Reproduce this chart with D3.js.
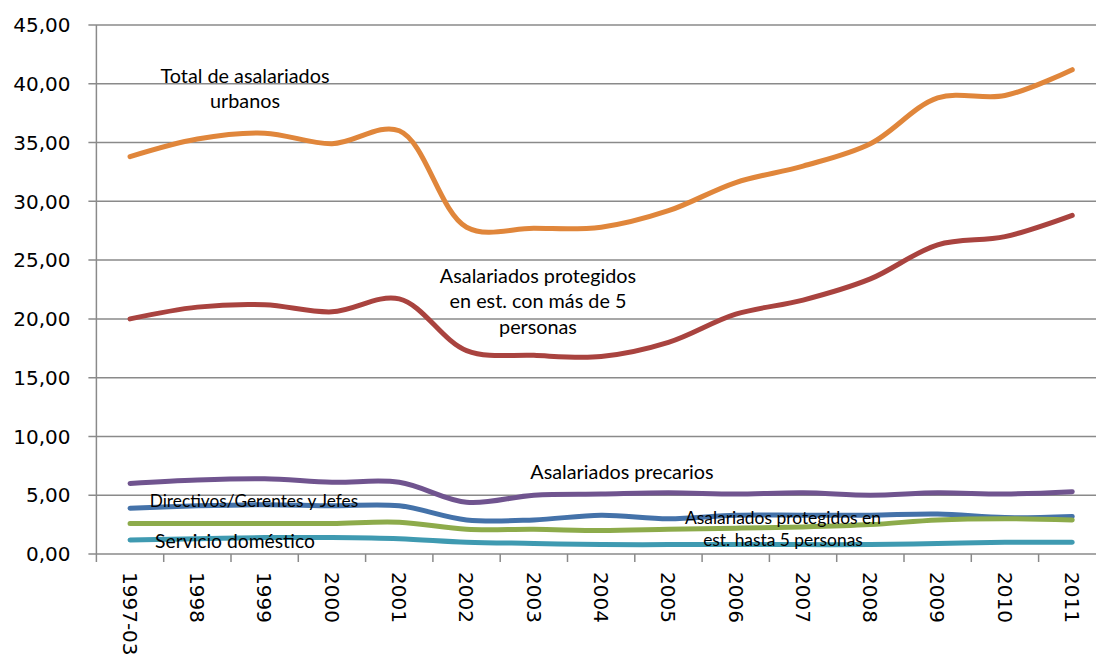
<!DOCTYPE html>
<html><head><meta charset="utf-8">
<script src="https://cdn.jsdelivr.net/npm/d3@7"></script>
<style>body{margin:0;background:#fff}svg{display:block}</style>
</head><body>
<svg id="c" width="1096" height="657"></svg>
<script>
const categories = ["1997-03","1998","1999","2000","2001","2002","2003","2004","2005","2006","2007","2008","2009","2010","2011"];
const yTicks = [0,5,10,15,20,25,30,35,40,45];
const totalUrbanos   = [33.8,35.3,35.8,34.9,36.0,27.8,27.7,27.8,29.2,31.6,33.0,34.9,38.8,39.0,41.2];
const protegidosMas5 = [20.0,21.0,21.2,20.6,21.7,17.3,16.9,16.8,18.0,20.4,21.6,23.4,26.3,27.0,28.8];
const precarios      = [6.0,6.3,6.4,6.1,6.1,4.4,5.0,5.1,5.2,5.1,5.2,5.0,5.2,5.1,5.3];
const directivos     = [3.9,4.1,4.2,4.1,4.1,2.9,2.9,3.3,3.0,3.3,3.3,3.3,3.4,3.1,3.2];
const protegidosHasta5 = [2.6,2.6,2.6,2.6,2.7,2.1,2.1,2.0,2.1,2.2,2.3,2.5,2.9,3.0,2.9];
const servicioDomestico = [1.2,1.3,1.4,1.4,1.3,1.0,0.9,0.8,0.8,0.8,0.8,0.8,0.9,1.0,1.0];

const series = [
  {values: totalUrbanos, color: "#E0863B"},
  {values: protegidosMas5, color: "#A9433F"},
  {values: precarios, color: "#70548F"},
  {values: directivos, color: "#4472A9"},
  {values: protegidosHasta5, color: "#8DAB4B"},
  {values: servicioDomestico, color: "#3F9AB1"}
];

(function(){
const svg = d3.select("#c");
const pLeft = 96.4, pTop = 25, pBottom = 554, band = 67.3;
const x = d3.scaleBand().domain(categories).range([pLeft, pLeft + band*categories.length]);
const y = d3.scaleLinear().domain([0,45]).range([pBottom, pTop]);
const gridColor = "#8a8a8a";

svg.append("g").selectAll("line").data(yTicks).join("line")
  .attr("x1", pLeft - 8).attr("x2", 1096)
  .attr("y1", d => y(d)).attr("y2", d => y(d))
  .attr("stroke", gridColor).attr("stroke-width", 1.5);
svg.append("line").attr("x1", pLeft).attr("x2", pLeft).attr("y1", pTop).attr("y2", pBottom)
  .attr("stroke", gridColor).attr("stroke-width", 1.5);
svg.append("g").selectAll("text").data(yTicks).join("text")
  .attr("x", 70.5).attr("y", d => y(d)).attr("dy", "0.36em")
  .attr("text-anchor", "end")
  .attr("font-family", "DejaVu Sans").attr("font-size", 20).attr("fill", "#000")
  .text(d => d.toFixed(2).replace(".", ","));
svg.append("g").selectAll("line").data(categories).join("line")
  .attr("x1", d => x(d)).attr("x2", d => x(d))
  .attr("y1", pBottom).attr("y2", pBottom + 8)
  .attr("stroke", gridColor).attr("stroke-width", 1.5);
svg.append("g").selectAll("text").data(categories).join("text")
  .attr("transform", d => `translate(${x(d) + band/2},572) rotate(90)`)
  .attr("dy", "0.36em")
  .attr("text-anchor", "start")
  .attr("font-family", "DejaVu Sans").attr("font-size", 20).attr("fill", "#000")
  .text(d => d);

const line = d3.line()
  .x((d,i) => x(categories[i]) + band/2)
  .y(d => y(d))
  .curve(d3.curveCatmullRom.alpha(0.5));
svg.append("g").selectAll("path").data(series).join("path")
  .attr("d", s => line(s.values))
  .attr("fill", "none").attr("stroke", s => s.color)
  .attr("stroke-width", 5).attr("stroke-linecap", "round").attr("stroke-linejoin", "round");

const notes = [
  {x: 245, y: 76, size: 19.8, gap: 25.5, lines: ["Total de asalariados", "urbanos"]},
  {x: 538, y: 276, size: 19.8, gap: 25.5, lines: ["Asalariados protegidos", "en est. con más de 5", "personas"]},
  {x: 622, y: 472, size: 19.8, gap: 25.5, lines: ["Asalariados precarios"]},
  {x: 254, y: 501, size: 17.3, gap: 25.5, lines: ["Directivos/Gerentes y Jefes"]},
  {x: 783, y: 518, size: 17.4, gap: 22, lines: ["Asalariados protegidos en", "est. hasta 5 personas"]},
  {x: 235, y: 541, size: 19.3, gap: 25.5, lines: ["Servicio doméstico"]}
];
notes.forEach(n => {
  const t = svg.append("text").attr("text-anchor", "middle")
    .attr("font-family", "Lato").attr("font-size", n.size).attr("fill", "#000");
  n.lines.forEach((l, i) => {
    t.append("tspan").attr("x", n.x).attr("y", n.y + i * n.gap)
      .attr("dy", "0.35em").text(l);
  });
});
})();
</script>
</body></html>
